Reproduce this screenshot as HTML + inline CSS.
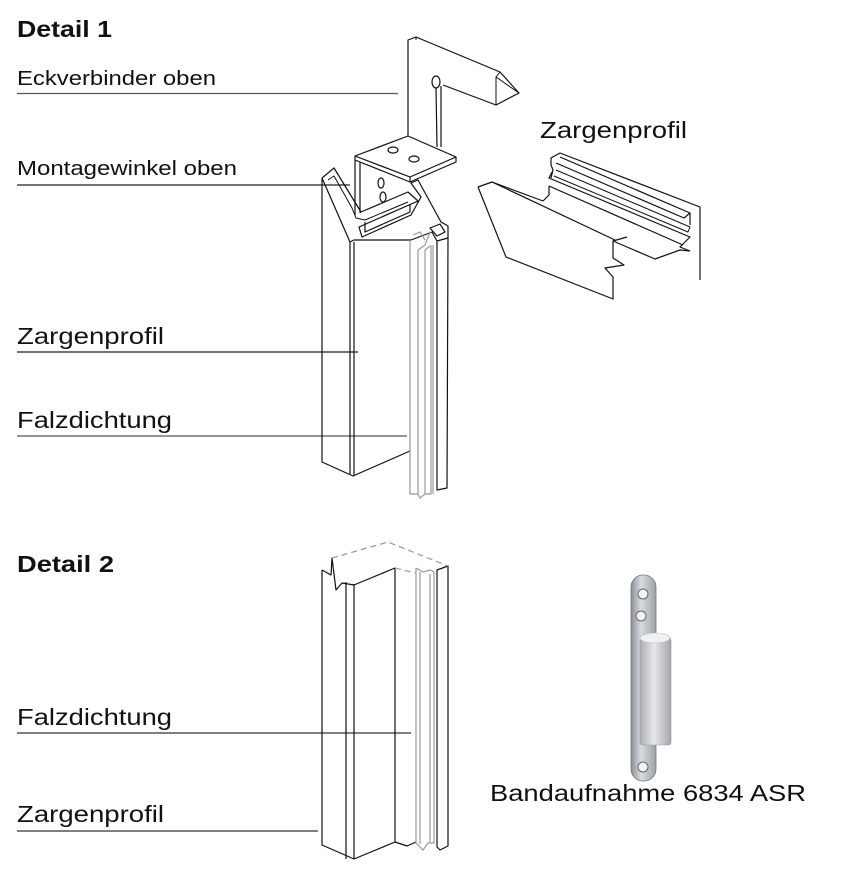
<!DOCTYPE html>
<html><head><meta charset="utf-8"><style>
html,body{margin:0;padding:0;background:#fff;}
svg{display:block;}
text{font-family:"Liberation Sans",Arial,sans-serif;fill:#111;}
</style></head><body>
<svg width="843" height="872" viewBox="0 0 843 872" xmlns="http://www.w3.org/2000/svg">
<text x="17" y="37" font-size="23" font-weight="bold" textLength="95" lengthAdjust="spacingAndGlyphs">Detail 1</text>
<text x="17" y="85" font-size="20" textLength="199" lengthAdjust="spacingAndGlyphs">Eckverbinder oben</text>
<line x1="17" y1="93.5" x2="398" y2="93.5" stroke="#555" stroke-width="1.3"/>
<text x="17" y="175" font-size="20" textLength="220" lengthAdjust="spacingAndGlyphs">Montagewinkel oben</text>
<line x1="17" y1="185" x2="350" y2="185" stroke="#222" stroke-width="1.2"/>
<text x="17" y="344" font-size="23" textLength="147" lengthAdjust="spacingAndGlyphs">Zargenprofil</text>
<line x1="17" y1="352" x2="358" y2="352" stroke="#222" stroke-width="1.2"/>
<text x="17" y="428" font-size="23" textLength="155" lengthAdjust="spacingAndGlyphs">Falzdichtung</text>
<line x1="17" y1="436" x2="407" y2="436" stroke="#555" stroke-width="1.3"/>
<text x="540" y="138" font-size="23" textLength="147" lengthAdjust="spacingAndGlyphs">Zargenprofil</text>
<text x="17" y="572" font-size="23" font-weight="bold" textLength="97" lengthAdjust="spacingAndGlyphs">Detail 2</text>
<text x="17" y="725" font-size="23" textLength="155" lengthAdjust="spacingAndGlyphs">Falzdichtung</text>
<line x1="17" y1="733" x2="411" y2="733" stroke="#333" stroke-width="1.2"/>
<text x="17" y="822" font-size="23" textLength="147" lengthAdjust="spacingAndGlyphs">Zargenprofil</text>
<line x1="17" y1="831" x2="318" y2="831" stroke="#333" stroke-width="1.2"/>
<text x="490" y="801" font-size="23" textLength="316" lengthAdjust="spacingAndGlyphs">Bandaufnahme 6834 ASR</text>

<g fill="none" stroke="#111" stroke-width="1.2" stroke-linejoin="round">
<path d="M408,137 L408,40 L416,37 L500,72 L519,93 L496,105 L443,85"/>
<path d="M416,37 L416,40 M500,72 L496,77 L519,93 M496,77 L496,105" stroke-width="1"/>
<ellipse cx="436" cy="82" rx="4" ry="6"/>
<path d="M436,88 L437,147 M441,86 L441,147"/>
<path d="M355,156 L408,136 L456,157 L410,177 Z" fill="#fff"/>
<path d="M355,156 L355,160 L410,182 L456,162 L456,157 M410,177 L410,182"/>
<ellipse cx="393" cy="150" rx="5" ry="3"/>
<ellipse cx="414" cy="159" rx="5" ry="3"/>
<path d="M355,160 L355,215 M360,162 L360,213"/>
<ellipse cx="381" cy="183" rx="3" ry="5"/>
<ellipse cx="383" cy="197" rx="3" ry="5"/>
<path d="M322,178 L334,168 L361,212 L408,192 L418,201 L359,227 L362,237 L411,215 L421,197 L411,183 L418,180 L441,222 L448,226 L448,238 L437,241 L432,232 L411,240 L354,240 L350,242 L322,178"/>
<path d="M328,180 L334,176 L352,208 L356,218 L365,220 L408,202" stroke-width="1"/>
<path d="M365,222 L365,232 L410,212 L410,204"/>
<path d="M430,228 L440,224 L445,232 L437,236 Z"/>
<path d="M322,178 L322,462 L353,476 L410,451"/>
<path d="M350,242 L350,474 M354,242 L354,476"/>
<path d="M437,241 L437,490 L447,488 L448,238" />
</g>
<g fill="none" stroke="#999" stroke-width="1.2">
<path d="M410,240 L410,494 L418,494 L418,250 M418,250 L425,245 L430,232 M418,494 L420,498 L425,494 L425,250 L430,246 M425,494 L431,494 L431,245 M433,245 L433,494"/>
<path d="M413,235 L420,232 L425,240"/>
</g>

<g fill="none" stroke="#111" stroke-width="1.2" stroke-linejoin="round">
<path d="M478,187 L492,182 L543,201"/>
<path d="M478,187 L506,257 L613,299 L613,277 L605,268 L624,265 L613,258 L613,241 L627,237"/>
<path d="M492,182 L615,240"/>
<path d="M552,172 L549,178 L690,237 L680,247 L690,251"/>
<path d="M551,165 L551,158 L560,153 L700,207 L700,280"/>
<path d="M560,157 L690,213 L684,218 L556,163"/>
<path d="M556,170 L690,227 L688,232 L554,176" stroke-width="1"/>
<path d="M551,165 L553,170 L551,178"/>
<path d="M549,186 L683,245"/>
<path d="M543,201 L549,195 L549,186"/>
<path d="M613,241 L655,259 L680,250 L690,251"/>
<path d="M690,213 L690,225"/>
</g>

<g fill="none" stroke="#111" stroke-width="1.2" stroke-linejoin="round">
<path d="M322,570 L322,845 L354,859 L395,842 L407,846 L416,842"/>
<path d="M346,582 L346,859 M354,584 L354,859"/>
<path d="M322,570 L331,575 L332,558 L336,590 L342,583 L354,585 L395,568 L395,842"/>
<path d="M437,570 L448,566 L448,846 L440,850 L437,847 Z"/>
</g>
<g fill="none" stroke="#999" stroke-width="1.2">
<path d="M416,568 L416,843 L423,850 L428,843 L434,843 L434,572 M420,572 L420,844 M430,574 L430,842 M416,568 L423,572 L430,570 L434,572"/>
</g>
<g fill="none" stroke="#999" stroke-width="1.2" stroke-dasharray="6,4">
<path d="M332,558 L388,542 L448,566"/>
<path d="M395,568 L411,572 L416,573"/>
</g>

<defs>
<linearGradient id="pl" x1="0" x2="1"><stop offset="0" stop-color="#8a8f96"/><stop offset="0.4" stop-color="#d8dce0"/><stop offset="1" stop-color="#9ca1a8"/></linearGradient>
<linearGradient id="cy" x1="0" x2="1"><stop offset="0" stop-color="#a9adb2"/><stop offset="0.45" stop-color="#e6e8ea"/><stop offset="1" stop-color="#a3a7ac"/></linearGradient>
</defs>
<rect x="631" y="575" width="25" height="206" rx="12" fill="url(#pl)" stroke="#777" stroke-width="0.8"/>
<circle cx="643" cy="594" r="5" fill="#f3f3f3" stroke="#666"/>
<circle cx="641" cy="616" r="5" fill="#f3f3f3" stroke="#666"/>
<circle cx="643" cy="767" r="5" fill="#f3f3f3" stroke="#666"/>
<rect x="640" y="637" width="31" height="108" rx="3" fill="url(#cy)" stroke="#999" stroke-width="0.6"/>
<ellipse cx="655" cy="638" rx="15" ry="5" fill="#eef0f2" stroke="#bbb" stroke-width="0.6"/>
</svg>
</body></html>
